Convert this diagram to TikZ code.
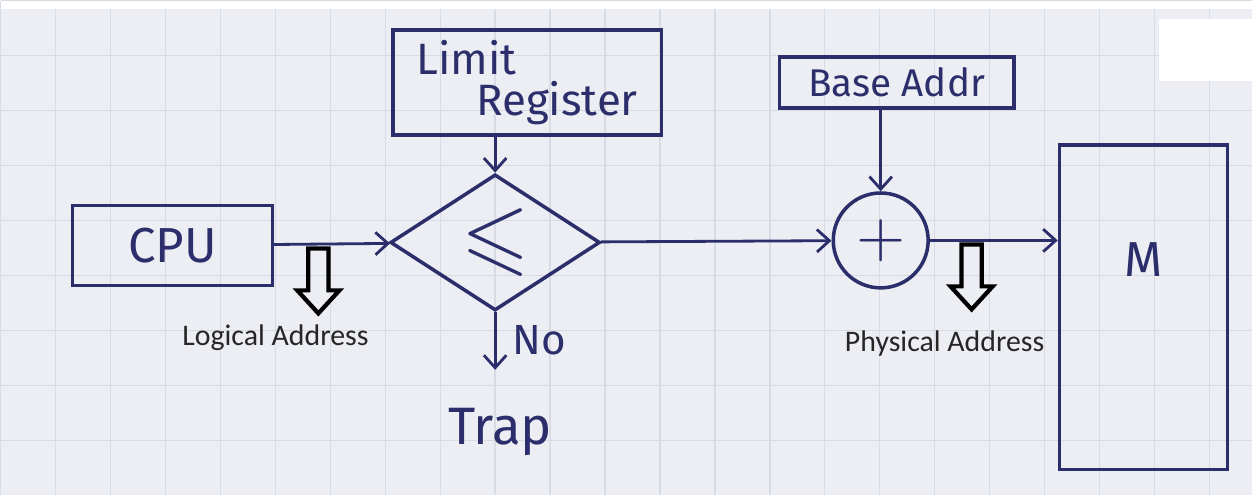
\documentclass[tikz,border=0pt]{standalone}
\usepackage{fontspec}
\usepackage{amssymb}
\setmainfont{Fira Sans}
\newfontfamily\typedfont{Carlito}
\usetikzlibrary{shapes.geometric,shapes.arrows,arrows.meta,positioning}
\definecolor{ink}{HTML}{2B2E6B}
\definecolor{paper}{HTML}{ECEEF3}
\definecolor{gridline}{HTML}{D8DBE3}

\begin{document}
\begin{tikzpicture}[
    block/.style={rectangle, draw=ink, line width=2pt, text=ink, font=\fontsize{28}{28}\selectfont},
    decision/.style={diamond, draw=ink, line width=2pt, inner sep=0pt, minimum width=4.2cm, minimum height=2.5cm, text=ink},
    adder/.style={circle, draw=ink, line width=2pt, minimum size=1.9cm, inner sep=0pt, text=ink},
    hand/.style={text=ink, font=\fontsize{26}{26}\selectfont},
    hollow/.style={single arrow, draw=black, line width=2.4pt, shape border rotate=270, minimum height=1.3cm, single arrow head extend=0.22cm, single arrow tip angle=85, inner sep=0.16cm},
    tag/.style={font=\typedfont\fontsize{17}{19}\selectfont, text=black!85},
    line/.style={draw=ink, line width=1.6pt, -{Straight Barb[length=2.5mm, width=4.5mm]}}]

    \fill [paper] (0,0) rectangle (25.06,-9.9);
    \draw [gridline, line width=0.8pt, step=1.1cm] (0,-9.9) grid (25.06,0);
    \fill [white] (0,0) rectangle (25.06,-0.16);
    \fill [white] (23.2,-0.36) rectangle (25.06,-1.6);
    \useasboundingbox (0,0) rectangle (25.06,-9.9);

    \node [block, minimum width=4cm, minimum height=1.6cm] (cpu) at (3.44,-4.9) {CPU};
    \node [decision, font=\fontsize{50}{50}\selectfont] (cmp) at (9.9,-4.84) {$\leqslant$};
    \node [block, align=left, minimum width=5.38cm, minimum height=2.1cm, font=\fontsize{25}{23}\selectfont] (limit) at (10.54,-1.64) {Limit\\\hspace*{1.2cm}Register};
    \node [adder] (sum) at (17.62,-4.8) {\scalebox{3.6}{$+$}};
    \node [block, minimum width=4.7cm, minimum height=1.02cm, inner sep=0pt, font=\fontsize{22}{22}\selectfont] (base) at (17.94,-1.64) {Base Addr};
    \node [block, minimum width=3.36cm, minimum height=6.5cm] (mem) at (22.88,-6.14) {};
    \node [hand, above=0.5cm of mem.center, font=\fontsize{28}{28}\selectfont] (mname) {M};
    \node [hand, font=\fontsize{30}{30}\selectfont] (trap) at (10.0,-8.64) {Trap};

    \node [hollow] (logicaldown) at (6.36,-5.5) {};
    \node [tag] (logical) at (5.5,-6.74) {Logical Address};
    \node [hollow] (physicaldown) at (19.44,-5.42) {};
    \node [tag] (physical) at (18.9,-6.86) {Physical Address};

    \path [line] (cpu) -- (cmp);
    \path [line] (limit.south -| cmp.north) -- (cmp.north);
    \path [line] (cmp) -- (sum);
    \path [line] (base.south -| sum.north) -- (sum.north);
    \path [line] (sum.east) -- (sum.east -| mem.west);
    \path [line, shorten >=0.65cm] (cmp.south) -- node[hand, right, xshift=0.2cm, yshift=0.35cm, font=\fontsize{24}{24}\selectfont] (no) {No} (cmp.south |- trap.north);
\end{tikzpicture}
\end{document}
